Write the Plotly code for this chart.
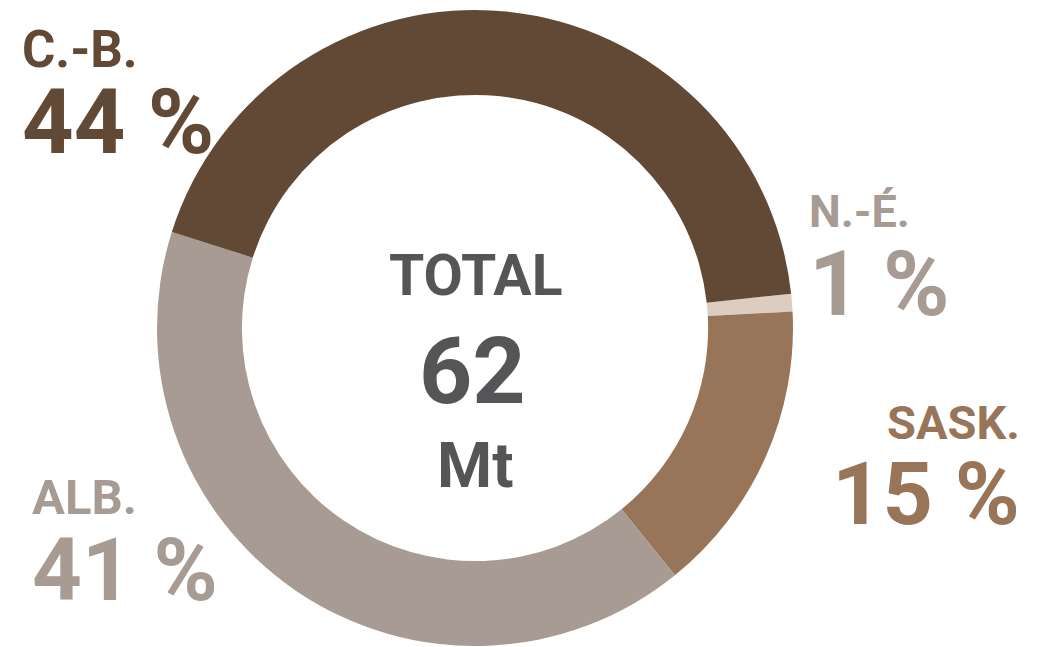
import plotly.graph_objects as go

# ---- data ----
regions = ["N.-É.", "SASK.", "ALB.", "C.-B."]
shares = [0.9, 15.0, 40.7, 43.4]
share_labels = ["1 %", "15 %", "41 %", "44 %"]
total_label = "TOTAL"
total_value = "62"
total_unit = "Mt"

# ---- style ----
W, H = 1043, 647
slice_colors = ["#ddcdc1", "#987558", "#a79b93", "#614935"]
label_colors = {"N.-É.": "#a79b93", "SASK.": "#987558", "ALB.": "#a79b93", "C.-B.": "#614935"}
FONT = "Roboto, Liberation Sans, sans-serif"
center_color = "#555557"

def px(x):
    return x / W

def py(y):
    return 1 - y / H

fig = go.Figure()
fig.add_trace(go.Pie(
    labels=regions,
    values=shares,
    sort=False,
    direction="clockwise",
    rotation=83.8,
    hole=0.733,
    marker=dict(colors=slice_colors, line=dict(width=0)),
    textinfo="none",
    hoverinfo="label+percent",
    showlegend=False,
    domain=dict(x=[px(157), px(793)], y=[py(646), py(10)]),
))

# label placement: (region, x_px, top y_px, anchor, base size (line spacing), size line1, size line2)
placements = [
    ("C.-B.", 20, 18, "left", 66, 51, 90),
    ("N.-É.", 807, 183, "left", 68, 45, 90),
    ("SASK.", 1022, 393, "right", 65, 47, 88),
    ("ALB.", 30, 467, "left", 66, 49, 87),
]
annotations = []
for reg, x, ytop, anchor, base, s1, s2 in placements:
    i = regions.index(reg)
    col = label_colors[reg]
    txt = ('<span style="font-size:%dpx"><b>%s</b></span><br>'
           '<span style="font-size:%dpx"><b>%s</b></span>') % (s1, reg, s2, share_labels[i])
    annotations.append(dict(text=txt, x=px(x), y=py(ytop), xref="paper", yref="paper",
                            xanchor=anchor, yanchor="top", align=anchor, showarrow=False,
                            font=dict(family=FONT, size=base, color=col)))

annotations.append(dict(text="<b>%s</b>" % total_label, x=px(475), y=py(275), xref="paper", yref="paper",
                        xanchor="center", yanchor="middle", showarrow=False,
                        font=dict(family=FONT, size=57, color=center_color)))
annotations.append(dict(text="<b>%s</b>" % total_value, x=px(472), y=py(371), xref="paper", yref="paper",
                        xanchor="center", yanchor="middle", showarrow=False,
                        font=dict(family=FONT, size=93, color=center_color)))
annotations.append(dict(text="<b>%s</b>" % total_unit, x=px(475), y=py(465), xref="paper", yref="paper",
                        xanchor="center", yanchor="middle", showarrow=False,
                        font=dict(family=FONT, size=63, color=center_color)))

fig.update_layout(
    width=W, height=H,
    margin=dict(l=0, r=0, t=0, b=0),
    paper_bgcolor="white",
    plot_bgcolor="white",
    annotations=annotations,
)

fig.write_html("out.html", config={"displayModeBar": False})
